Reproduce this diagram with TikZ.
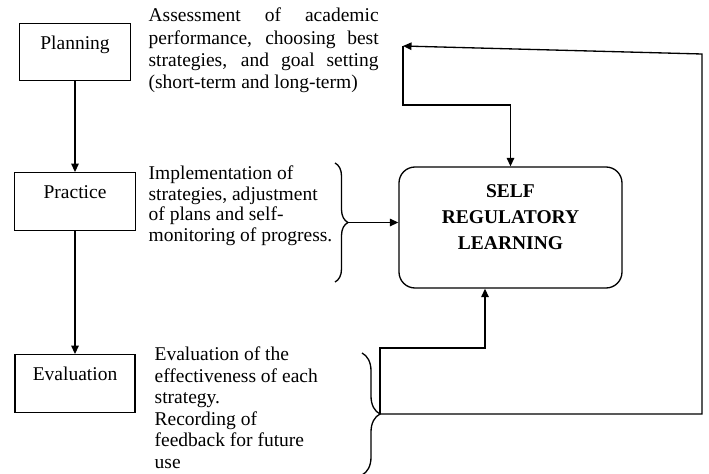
\documentclass[tikz,border=0pt]{standalone}
\usepackage{fontspec}
\setmainfont{Liberation Serif}
\usetikzlibrary{positioning,arrows.meta,decorations.pathreplacing}

\begin{document}
\begin{tikzpicture}[
    >={Triangle[length=1.7mm,width=1.5mm]},
    line width=0.75pt,
    stagebox/.style={draw, minimum height=1.15cm},
    stagetext/.style={inner sep=0pt, text height=0.27cm, font=\fontsize{11.1pt}{12.7pt}\selectfont},
    note/.style={inner sep=0pt, anchor=base west},
    srlbox/.style={draw, rounded corners=0.32cm, minimum width=4.46cm, minimum height=2.42cm},
    srltext/.style={align=center, font=\fontsize{11.1pt}{14.8pt}\selectfont\bfseries},
    bracket/.style={decorate, decoration={brace, amplitude=#1}}
]
    \useasboundingbox (0,0) rectangle (14.18,9.46);

    \node[stagebox, minimum width=2.22cm] (plan) at (1.5,8.42) {};
    \node[stagebox, minimum width=2.42cm] (prac) at (1.5,5.43) {};
    \node[stagebox, minimum width=2.40cm] (eval) at (1.5,1.79) {};
    \node[stagetext, below=0.25cm of plan.north] (plantext) {Planning};
    \node[stagetext, below=0.25cm of prac.north] (practext) {Practice};
    \node[stagetext, below=0.25cm of eval.north] (evaltext) {Evaluation};

    \draw[->] (plan) -- (prac);
    \draw[->] (prac) -- (eval);

    \node[note, text width=4.6cm, align=justify, font=\fontsize{11.1pt}{12.7pt}\selectfont] (assess) at (2.96,9.02)
        {Assessment of academic\linebreak performance, choosing best\linebreak strategies, and goal setting\linebreak (short-term and long-term)};
    \node[note, align=left, font=\fontsize{11.1pt}{11.8pt}\selectfont] (implement) at (2.96,4.63)
        {Implementation of\\strategies, adjustment\\of plans and self-\\monitoring of progress.};
    \node[note, align=left, font=\fontsize{11.1pt}{12.3pt}\selectfont] (evalnote) at (3.08,0.09)
        {Evaluation of the\\effectiveness of each\\strategy.\\Recording of\\feedback for future\\use};

    \node[srlbox] (srl) at (10.21,4.91) {};
    \node[srltext] (srlname) at (10.21,5.11) {SELF\\REGULATORY\\LEARNING};

    \draw[bracket=0.26cm] (6.70,6.20) -- (6.70,3.82);
    \draw[bracket=0.36cm] (7.24,2.40) -- (7.24,-0.04);
    \coordinate (tip2) at (6.96,5.01);
    \coordinate (tip3) at (7.60,1.18);
    \coordinate (junc) at (8.06,8.54);
    \coordinate (knee) at (10.21,7.36);
    \coordinate (bend) at (9.70,2.50);
    \coordinate (corner) at (14.04,8.38);

    \draw[->] (tip2) -- (tip2 -| srl.west);
    \draw[->] (tip3) |- (bend) -- (bend |- srl.south);
    \draw[->] (tip3) -| (corner) -- (junc);
    \draw[->] (junc) |- (knee) -- (srl.north);
\end{tikzpicture}
\end{document}
